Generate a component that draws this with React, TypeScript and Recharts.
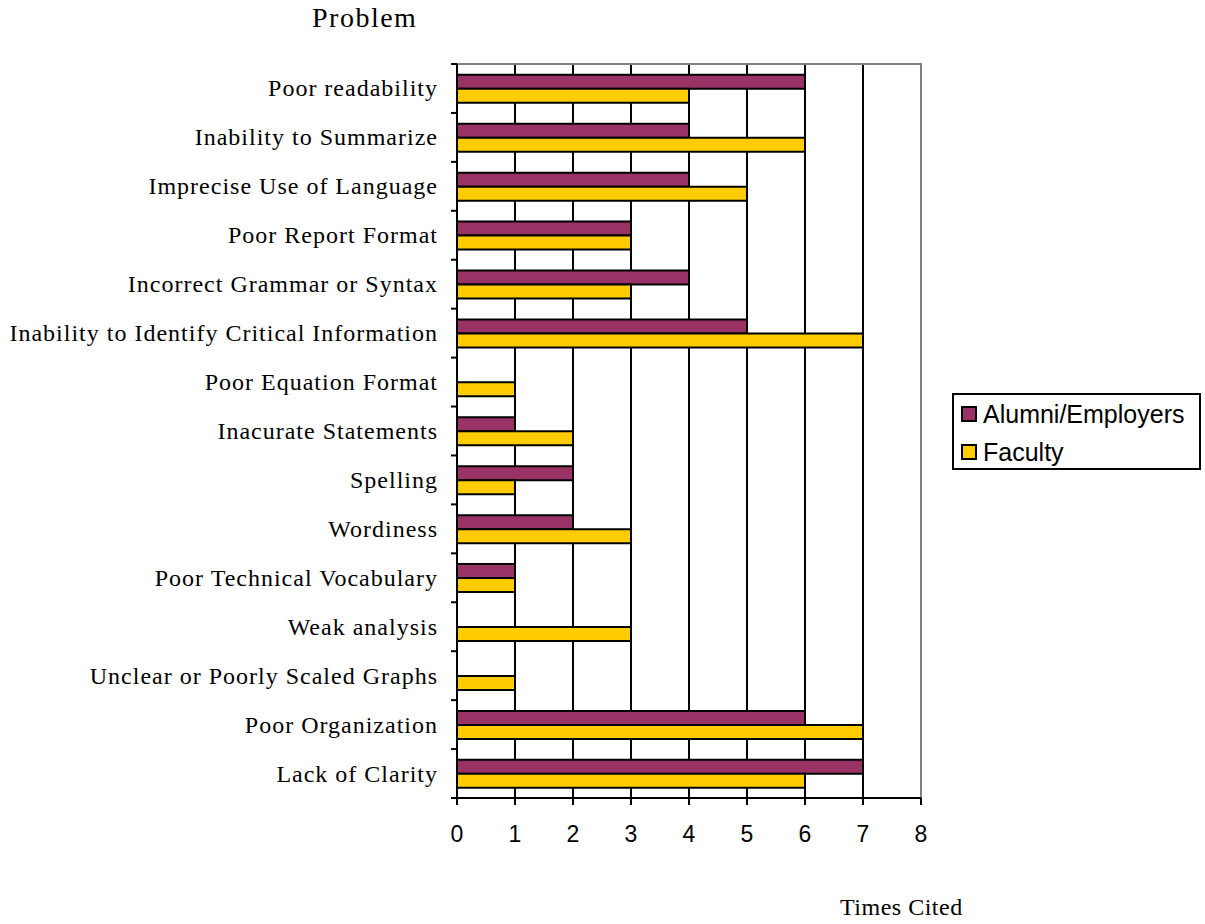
import { Bar, BarChart, CartesianGrid, Legend, ReferenceArea, XAxis, YAxis } from "recharts"

const problems = [
  "Poor readability",
  "Inability to Summarize",
  "Imprecise Use of Language",
  "Poor Report Format",
  "Incorrect Grammar or Syntax",
  "Inability to Identify Critical Information",
  "Poor Equation Format",
  "Inacurate Statements",
  "Spelling",
  "Wordiness",
  "Poor Technical Vocabulary",
  "Weak analysis",
  "Unclear or Poorly Scaled Graphs",
  "Poor Organization",
  "Lack of Clarity",
]

const alumniEmployers = [6, 4, 4, 3, 4, 5, 0, 1, 2, 2, 1, 0, 0, 6, 7]
const faculty = [4, 6, 5, 3, 3, 7, 1, 2, 1, 3, 1, 3, 1, 7, 6]

const xTicks = [0, 1, 2, 3, 4, 5, 6, 7, 8]

const data = problems.map((problem, i) => ({
  problem,
  "Alumni/Employers": alumniEmployers[i],
  Faculty: faculty[i],
}))

const PURPLE = "#993366"
const YELLOW = "#FFCC00"

const WIDTH = 1205
const HEIGHT = 924
const PLOT_LEFT = 457
const PLOT_TOP = 64
const PLOT_BOTTOM = 798
const X_AXIS_HEIGHT = 40
const BAND = (PLOT_BOTTOM - PLOT_TOP) / problems.length

const serif = "'Liberation Serif', 'Times New Roman', serif"
const sans = "'Liberation Sans', Arial, sans-serif"

// category label plus the small tick marks at the band edges
function ProblemTick(props: any) {
  const { y, payload, index } = props
  const last = index === problems.length - 1
  return (
    <g>
      <line x1={PLOT_LEFT - 6} x2={PLOT_LEFT} y1={y - BAND / 2} y2={y - BAND / 2} stroke="#000" strokeWidth={2} />
      {last && (
        <line x1={PLOT_LEFT - 6} x2={PLOT_LEFT} y1={y + BAND / 2} y2={y + BAND / 2} stroke="#000" strokeWidth={2} />
      )}
      <text
        x={PLOT_LEFT - 19}
        y={y}
        textAnchor="end"
        dominantBaseline="central"
        fontFamily={serif}
        fontSize={24}
        letterSpacing={1}
        fill="#000"
      >
        {payload.value}
      </text>
    </g>
  )
}

function LegendBox() {
  const items = [
    { name: "Alumni/Employers", color: PURPLE },
    { name: "Faculty", color: YELLOW },
  ]
  return (
    <div
      style={{
        border: "2px solid #000",
        width: 245,
        height: 73,
        boxSizing: "content-box",
        background: "#fff",
        fontFamily: sans,
        fontSize: 25,
        color: "#000",
        textAlign: "left",
      }}
    >
      {items.map((it) => (
        <div key={it.name} style={{ display: "flex", alignItems: "center", height: 38 }}>
          <span
            style={{
              display: "inline-block",
              width: 12,
              height: 12,
              background: it.color,
              border: "2px solid #000",
              marginLeft: 7,
              marginRight: 6,
            }}
          />
          <span>{it.name}</span>
        </div>
      ))}
    </div>
  )
}

export default function App() {
  return (
    <div style={{ width: WIDTH, height: HEIGHT, background: "#fff" }}>
      <style>{`body{margin:0;background:#fff}`}</style>
      <BarChart
        width={WIDTH}
        height={HEIGHT}
        data={data}
        layout="vertical"
        margin={{ top: PLOT_TOP, right: 284, bottom: HEIGHT - PLOT_BOTTOM - X_AXIS_HEIGHT, left: 0 }}
        barCategoryGap="22%"
        barGap={0}
      >
        <CartesianGrid horizontal={false} vertical stroke="#000" strokeWidth={2} />
        <XAxis
          type="number"
          domain={[0, 8]}
          ticks={xTicks}
          interval={0}
          height={X_AXIS_HEIGHT}
          axisLine={{ stroke: "#000", strokeWidth: 2 }}
          tickLine={{ stroke: "#000", strokeWidth: 2 }}
          tickSize={7}
          tickMargin={21}
          tick={{ fill: "#000", fontFamily: sans, fontSize: 23 }}
        />
        <YAxis
          type="category"
          dataKey="problem"
          width={PLOT_LEFT}
          interval={0}
          axisLine={{ stroke: "#000", strokeWidth: 2 }}
          tickLine={false}
          tick={<ProblemTick />}
        />
        <ReferenceArea x1={0} x2={8} fill="none" stroke="#808080" strokeWidth={2} />
        <Bar dataKey="Alumni/Employers" fill={PURPLE} stroke="#000" strokeWidth={2} isAnimationActive={false} />
        <Bar dataKey="Faculty" fill={YELLOW} stroke="#000" strokeWidth={2} isAnimationActive={false} />
        <Legend
          layout="vertical"
          align="center"
          verticalAlign="middle"
          content={<LegendBox />}
          wrapperStyle={{ position: "absolute", left: 952, top: 393, width: "auto", height: "auto" }}
        />
        <text x={840} y={915} fontFamily={serif} fontSize={24} letterSpacing={0.5} fill="#000">
          Times Cited
        </text>
        <text x={312} y={27} fontFamily={serif} fontSize={28} letterSpacing={1.5} fill="#000">
          Problem
        </text>
      </BarChart>
    </div>
  )
}
